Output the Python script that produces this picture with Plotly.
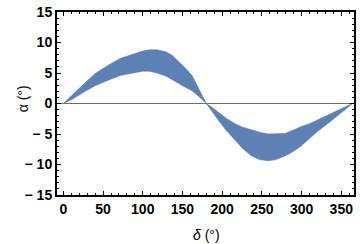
import plotly.graph_objects as go

# band of simulated points: delta (deg) with upper / lower alpha envelope (deg)
delta = [0, 10, 25, 40, 58, 72, 87, 100, 108, 118, 129, 137, 145, 153, 162, 171, 180,
         187, 195, 205, 216, 226, 237, 247, 258, 268, 279, 289, 299, 310, 320, 331, 341, 353, 364]
alpha_upper = [0, 1.3, 3.1, 4.9, 6.4, 7.4, 8.1, 8.6, 8.8, 8.8, 8.5, 7.9, 6.9, 5.9, 4.6, 2.4, 0,
               -0.6, -1.4, -2.4, -3.3, -3.9, -4.3, -4.7, -5.0, -5.0, -4.9, -4.4, -3.8, -3.3, -2.7, -2.0, -1.4, -0.7, 0]
alpha_lower = [0, 0.6, 1.8, 2.9, 3.9, 4.6, 5.0, 5.3, 5.3, 5.0, 4.5, 4.0, 3.3, 2.7, 2.1, 1.1, 0,
               -1.2, -2.7, -4.4, -6.0, -7.4, -8.6, -9.2, -9.4, -9.2, -8.6, -7.9, -7.0, -5.8, -4.6, -3.5, -2.5, -1.2, 0]

x_ticks = [0, 50, 100, 150, 200, 250, 300, 350]
y_ticks = [-15, -10, -5, 0, 5, 10, 15]
y_ticktext = ["\u2212 15", "\u2212 10", "\u2212 5", "0", "5", "10", "15"]

band_x = delta + delta[::-1]
band_y = alpha_upper + alpha_lower[::-1]

fig = go.Figure()
fig.add_trace(go.Scatter(x=band_x, y=band_y, fill="toself", mode="lines",
                         line=dict(width=0.6, color="rgb(94,129,181)"),
                         fillcolor="rgb(94,129,181)", hoverinfo="skip", showlegend=False))

font_tick = dict(family="Liberation Sans", size=14, color="black")
font_title = dict(family="Liberation Sans", size=14, color="black")

fig.update_layout(
    width=360, height=244,
    margin=dict(l=57, r=4, t=10, b=49),
    paper_bgcolor="white", plot_bgcolor="white",
    showlegend=False,
    xaxis=dict(range=[-8, 366], tickvals=x_ticks, ticktext=["<b>%d</b>" % v for v in x_ticks],
               ticks="inside", ticklen=4, tickwidth=1.2, tickcolor="black",
               showline=True, linewidth=2, linecolor="black", mirror="allticks",
               showgrid=False, zeroline=False, tickfont=font_tick,
               minor=dict(dtick=10, tick0=0, ticks="inside", ticklen=2, tickwidth=1, tickcolor="black")),
    yaxis=dict(range=[-15, 15], tickvals=y_ticks, ticktext=["<b>%s</b>" % t for t in y_ticktext],
               ticks="inside", ticklen=4, tickwidth=1.2, tickcolor="black",
               showline=True, linewidth=2, linecolor="black", mirror="allticks",
               showgrid=False, zeroline=True, zerolinecolor="rgb(110,110,110)", zerolinewidth=1,
               tickfont=font_tick,
               minor=dict(dtick=1, tick0=0, ticks="inside", ticklen=2, tickwidth=1, tickcolor="black")),
    annotations=[
        dict(text="<i>δ</i> (°)", xref="paper", yref="paper", x=0.5017, y=-0.216,
             showarrow=False, xanchor="center", yanchor="middle", font=font_title),
        dict(text="α (°)", xref="paper", yref="paper", x=-0.1137, y=0.524, textangle=-90,
             showarrow=False, xanchor="center", yanchor="middle", font=font_title),
    ],
)

fig.write_html("out.html", config={"displayModeBar": False},
               post_script="document.body.style.margin='0';document.body.style.overflow='hidden';")
